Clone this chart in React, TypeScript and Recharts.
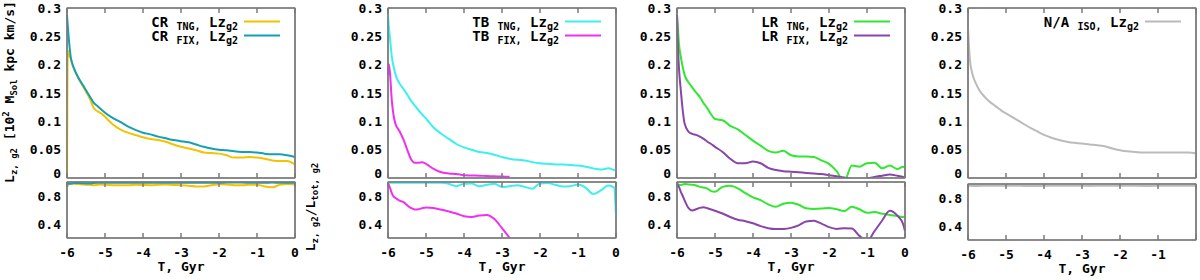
import React from "react";
import { LineChart, Line, XAxis, YAxis, ReferenceArea } from "recharts";

// time grid, Gyr
const TIME = [
  -6, -5.98, -5.95, -5.9, -5.85, -5.8, -5.7, -5.6, -5.5, -5.4,
  -5.3, -5.2, -5.1, -5.0, -4.8, -4.6, -4.4, -4.2, -4.0, -3.8,
  -3.6, -3.4, -3.2, -3.0, -2.8, -2.6, -2.4, -2.2, -2.0, -1.8,
  -1.6, -1.4, -1.2, -1.0, -0.8, -0.6, -0.4, -0.2, -0.05, 0,
];

// CR
const crTngTop = [
  0, 0.225, 0.218, 0.21, 0.198, 0.19, 0.176, 0.164, 0.152, 0.14,
  0.124, 0.118, 0.114, 0.108, 0.095, 0.086, 0.08, 0.076, 0.072, 0.069,
  0.067, 0.064, 0.059, 0.055, 0.052, 0.049, 0.045, 0.044, 0.043, 0.04,
  0.036, 0.036, 0.037, 0.036, 0.034, 0.031, 0.03, 0.03, 0.026, 0.024,
];
const crFixTop = [
  0.288, 0.269, 0.244, 0.213, 0.2, 0.191, 0.177, 0.166, 0.155, 0.144,
  0.133, 0.127, 0.121, 0.115, 0.106, 0.099, 0.091, 0.085, 0.08, 0.077,
  0.073, 0.07, 0.067, 0.065, 0.063, 0.059, 0.055, 0.052, 0.05, 0.049,
  0.047, 0.046, 0.046, 0.045, 0.043, 0.042, 0.042, 0.04, 0.038, 0.037,
];
const crTngBot = [
  0.92, 0.95, 0.97, 0.98, 0.98, 0.975, 0.97, 0.965, 0.96, 0.96,
  0.955, 0.96, 0.965, 0.96, 0.955, 0.955, 0.955, 0.96, 0.958, 0.955,
  0.962, 0.965, 0.958, 0.955, 0.948, 0.935, 0.935, 0.955, 0.968, 0.965,
  0.955, 0.955, 0.96, 0.962, 0.935, 0.925, 0.96, 0.97, 0.968, 0.965,
];
const crFixBot = [
  0.99, 0.985, 0.975, 0.975, 0.98, 0.985, 0.985, 0.983, 0.98, 0.98,
  0.985, 0.988, 0.99, 0.99, 0.99, 0.99, 0.99, 0.99, 0.99, 0.99,
  0.99, 0.99, 0.99, 0.988, 0.988, 0.99, 0.99, 0.99, 0.99, 0.992,
  0.992, 0.992, 0.99, 0.99, 0.99, 0.992, 0.99, 0.99, 0.99, 0.99,
];

// TB
const tbTngTop = [
  0.288, 0.269, 0.249, 0.214, 0.196, 0.182, 0.167, 0.158, 0.148, 0.137,
  0.128, 0.12, 0.112, 0.105, 0.089, 0.078, 0.069, 0.06, 0.054, 0.05,
  0.046, 0.044, 0.041, 0.037, 0.034, 0.032, 0.031, 0.028, 0.026, 0.025,
  0.024, 0.024, 0.023, 0.022, 0.02, 0.017, 0.015, 0.017, 0.014, 0.013,
];
const tbFixTop = [
  0.182, 0.201, 0.187, 0.137, 0.109, 0.095, 0.083, 0.069, 0.051, 0.034,
  0.027, 0.027, 0.028, 0.025, 0.016, 0.01, 0.008, 0.007, 0.005, 0.0045,
  0.004, 0.0035, 0.003, 0.0025, 0.002, null, null, null, null, null,
  null, null, null, null, null, null, null, null, null, null,
];
const tbTngBot = [
  0.99, 0.99, 0.99, 0.99, 0.99, 0.99, 0.99, 0.99, 0.99, 0.99,
  0.99, 0.99, 0.99, 0.99, 0.99, 0.99, 0.975, 0.94, 0.975, 0.98,
  0.94, 0.96, 0.975, 0.93, 0.94, 0.955, 0.93, 0.905, 0.98, 0.985,
  0.96, 0.935, 0.94, 0.965, 0.92, 0.83, 0.88, 0.95, 0.92, 0.51,
];
const tbFixBot = [
  0.98, 0.96, 0.92, 0.84, 0.79, 0.77, 0.735, 0.715, 0.67, 0.63,
  0.607, 0.61, 0.627, 0.636, 0.628, 0.605, 0.58, 0.55, 0.51, 0.5,
  0.52, 0.53, 0.47, 0.34, 0.2, null, null, null, null, null,
  null, null, null, null, null, null, null, null, null, null,
];

// LR
const lrTngTop = [
  0.288, 0.269, 0.238, 0.214, 0.196, 0.182, 0.169, 0.16, 0.151, 0.143,
  0.132, 0.123, 0.112, 0.104, 0.102, 0.092, 0.086, 0.076, 0.066, 0.057,
  0.048, 0.045, 0.048, 0.04, 0.038, 0.038, 0.037, 0.031, 0.025, 0.012,
  -0.006, 0.022, 0.02, 0.026, 0.027, 0.017, 0.022, 0.016, 0.02, 0.018,
];
const lrFixTop = [
  0.288, 0.24, 0.196, 0.155, 0.12, 0.096, 0.082, 0.078, 0.076, 0.073,
  0.069, 0.064, 0.06, 0.055, 0.046, 0.034, 0.026, 0.026, 0.029, 0.026,
  0.018, 0.014, 0.012, 0.011, 0.01, 0.009, 0.008, 0.007, 0.005, 0.003,
  0.001, -0.002, -0.005, -0.001, 0.002, 0.004, 0.006, 0.004, 0.002, 0.001,
];
const lrTngBot = [
  0.98, 0.97, 0.96, 0.955, 0.965, 0.97, 0.965, 0.96, 0.95, 0.93,
  0.92, 0.906, 0.87, 0.86, 0.93, 0.945, 0.91, 0.84, 0.78, 0.74,
  0.68, 0.645, 0.69, 0.705, 0.675, 0.625, 0.615, 0.62, 0.63, 0.61,
  0.585, 0.645, 0.61, 0.56, 0.57, 0.545, 0.53, 0.515, 0.5, 0.5,
];
const lrFixBot = [
  0.98, 0.96, 0.93, 0.86, 0.8, 0.737, 0.63, 0.593, 0.61, 0.63,
  0.64, 0.625, 0.607, 0.59, 0.55, 0.5, 0.46, 0.44, 0.41, 0.37,
  0.34, 0.328, 0.33, 0.345, 0.38, 0.435, 0.445, 0.405, 0.355, 0.33,
  0.34, 0.335, 0.23, 0.16, 0.3, 0.45, 0.59, 0.52, 0.4, 0.3,
];

// N/A
const isoTop = [
  0.265, 0.24, 0.209, 0.188, 0.176, 0.168, 0.155, 0.146, 0.139, 0.133,
  0.128, 0.123, 0.118, 0.114, 0.106, 0.098, 0.09, 0.083, 0.076, 0.071,
  0.067, 0.064, 0.062, 0.061, 0.059, 0.058, 0.056, 0.052, 0.049, 0.047,
  0.046, 0.045, 0.045, 0.045, 0.045, 0.045, 0.045, 0.045, 0.044, 0.042,
];
const isoBot = [
  0.975, 0.975, 0.975, 0.972, 0.972, 0.972, 0.973, 0.974, 0.975, 0.975,
  0.975, 0.976, 0.976, 0.976, 0.975, 0.974, 0.972, 0.972, 0.974, 0.975,
  0.976, 0.976, 0.975, 0.974, 0.973, 0.974, 0.975, 0.976, 0.976, 0.975,
  0.974, 0.973, 0.973, 0.974, 0.975, 0.975, 0.975, 0.975, 0.975, 0.975,
];

const TOP_TICKS = [0, 0.05, 0.1, 0.15, 0.2, 0.25, 0.3];
const BOT_TICKS = [0.4, 0.8];
const X_TICKS = [-6, -5, -4, -3, -2, -1, 0];
const X_TICKS_ISO = [-6, -5, -4, -3, -2, -1];

const FONT = '"DejaVu Sans Mono", monospace';
const FRAME = "#7a7a7a";
const PLOT_W = 228;
const AXIS_W = 60;

type Series = { main: string; sub: string; color: string; top: (number | null)[]; bottom: (number | null)[] };
type PanelDef = { left: number; shift: number; xTicks: number[]; series: Series[] };

const PANELS: PanelDef[] = [
  {
    left: 67, shift: 0, xTicks: X_TICKS,
    series: [
      { main: "CR", sub: "TNG,", color: "#f3c300", top: crTngTop, bottom: crTngBot },
      { main: "CR", sub: "FIX,", color: "#14a0b4", top: crFixTop, bottom: crFixBot },
    ],
  },
  {
    left: 388, shift: 0, xTicks: X_TICKS,
    series: [
      { main: "TB", sub: "TNG,", color: "#3cf0f0", top: tbTngTop, bottom: tbTngBot },
      { main: "TB", sub: "FIX,", color: "#f030f0", top: tbFixTop, bottom: tbFixBot },
    ],
  },
  {
    left: 677, shift: 0, xTicks: X_TICKS,
    series: [
      { main: "LR", sub: "TNG,", color: "#30e830", top: lrTngTop, bottom: lrTngBot },
      { main: "LR", sub: "FIX,", color: "#8a45a8", top: lrFixTop, bottom: lrFixBot },
    ],
  },
  {
    left: 968, shift: 2, xTicks: X_TICKS_ISO,
    series: [{ main: "N/A", sub: "ISO,", color: "#bbbbbb", top: isoTop, bottom: isoBot }],
  },
];

function rows(series: Series[], which: "top" | "bottom") {
  return TIME.map((t, i) => {
    const r: Record<string, number | null> = { t };
    series.forEach((s, k) => (r["s" + k] = s[which][i]));
    return r;
  });
}

const txt = { fontFamily: FONT, fontWeight: "bold" as const, fill: "#000" };

const YTickTop = (props: any) => {
  const { x, y, payload } = props;
  const lift = payload.value === 0 ? -4.5 : 0;
  return (
    <text x={x} y={y + lift} dy="0.36em" textAnchor="end" fontSize={13} {...txt}>
      {payload.value}
    </text>
  );
};

const YTickBot = (props: any) => {
  const { x, y, payload } = props;
  return (
    <text x={x} y={y} dy="0.36em" textAnchor="end" fontSize={13} {...txt}>
      {payload.value}
    </text>
  );
};

const XTick = (props: any) => {
  const { x, y, payload } = props;
  return (
    <text x={x} y={y} dy="0.71em" textAnchor="middle" fontSize={13} {...txt}>
      {payload.value}
    </text>
  );
};

// frame axes keep their tick marks but draw no label
const Blank = () => <g />;

const frameLine = { stroke: FRAME, strokeWidth: 1.5 };

function Half({ p, which }: { p: PanelDef; which: "top" | "bottom" }) {
  const isTop = which === "top";
  const domain = isTop ? [0, 0.3] : [0.2, 1.0];
  const yTicks = isTop ? TOP_TICKS : BOT_TICKS;
  const top = isTop ? 0 : 174 + p.shift;
  const height = isTop ? 179 : 104;
  return (
    <div style={{ position: "absolute", left: p.left - AXIS_W, top }}>
      <LineChart
        width={AXIS_W + PLOT_W + 2}
        height={height}
        data={rows(p.series, which)}
        margin={{ top: 8, right: 2, bottom: isTop ? 1 : 0, left: 0 }}
      >
        {/* labels */}
        <XAxis
          xAxisId="lab" dataKey="t" type="number" domain={[-6, 0]} ticks={p.xTicks} interval={0}
          height={isTop ? 0 : 40} hide={isTop} tick={XTick} tickLine={false} axisLine={false}
          tickSize={0} tickMargin={10}
        />
        <YAxis
          yAxisId="lab" type="number" domain={domain} ticks={yTicks} interval={0} width={AXIS_W}
          tick={isTop ? YTickTop : YTickBot} tickLine={false} axisLine={false} tickSize={0} tickMargin={6}
          allowDataOverflow
        />
        {/* frame with inward ticks */}
        <XAxis
          xAxisId="fb" orientation="bottom" mirror dataKey="t" type="number" domain={[-6, 0]} ticks={X_TICKS}
          height={10} tick={Blank} tickSize={5} stroke={FRAME} axisLine={frameLine} tickLine={frameLine}
        />
        <XAxis
          xAxisId="ft" orientation="top" mirror dataKey="t" type="number" domain={[-6, 0]} ticks={X_TICKS}
          height={10} tick={Blank} tickSize={5} stroke={FRAME} axisLine={frameLine} tickLine={frameLine}
        />
        <YAxis
          yAxisId="fl" orientation="left" mirror type="number" domain={domain} ticks={yTicks}
          width={10} tick={Blank} tickSize={5} stroke={FRAME} axisLine={frameLine} tickLine={frameLine}
        />
        <YAxis
          yAxisId="fr" orientation="right" mirror type="number" domain={domain} ticks={yTicks}
          width={10} tick={Blank} tickSize={5} stroke={FRAME} axisLine={frameLine} tickLine={frameLine}
        />
        <ReferenceArea
          xAxisId="lab" yAxisId="lab" x1={-6} x2={0} y1={domain[0]} y2={domain[1]}
          fill="none" fillOpacity={0} stroke={FRAME} strokeWidth={1.2} ifOverflow="visible"
        />
        {p.series.map((s, k) => (
          <Line
            key={k} xAxisId="lab" yAxisId="lab" dataKey={"s" + k} type="monotone" stroke={s.color}
            strokeWidth={2} dot={false} activeDot={false} isAnimationActive={false}
          />
        ))}
      </LineChart>
    </div>
  );
}

function Overlay() {
  return (
    <svg width={1200} height={280} style={{ position: "absolute", left: 0, top: 0, pointerEvents: "none" }}>
      {PANELS.map((p, i) => {
        const right = p.left + PLOT_W;
        const x2 = right - 15;
        const x1 = x2 - 36;
        return (
          <g key={i}>
            {p.series.map((s, k) => {
              const y = 21.5 + k * 14;
              return (
                <g key={k}>
                  <text x={x1 - 6} y={y + 5} textAnchor="end" fontSize={14} {...txt} style={{ whiteSpace: "pre" }}>
                    <tspan>{s.main + " "}</tspan>
                    <tspan fontSize={10} dy={3}>{s.sub}</tspan>
                    <tspan fontSize={14} dy={-3}>{" Lz"}</tspan>
                    <tspan fontSize={10} dy={3}>g2</tspan>
                  </text>
                  <line x1={x1} x2={x2} y1={y} y2={y} stroke={s.color} strokeWidth={2} />
                </g>
              );
            })}
            <text x={p.left + PLOT_W / 2} y={271 + p.shift} textAnchor="middle" fontSize={13} {...txt} style={{ whiteSpace: "pre" }}>
              T, Gyr
            </text>
          </g>
        );
      })}
      <text transform="translate(14,92) rotate(-90)" textAnchor="middle" fontSize={13} {...txt} style={{ whiteSpace: "pre" }}>
        <tspan>L</tspan>
        <tspan fontSize={9} dy={3}>z, g2</tspan>
        <tspan dy={-3}>{" [10"}</tspan>
        <tspan fontSize={9} dy={-5}>2</tspan>
        <tspan dy={5}>{" M"}</tspan>
        <tspan fontSize={9} dy={3}>Sol</tspan>
        <tspan dy={-3}>{" kpc km/s]"}</tspan>
      </text>
      <text transform="translate(315,207) rotate(-90)" textAnchor="middle" fontSize={13} {...txt} style={{ whiteSpace: "pre" }}>
        <tspan>L</tspan>
        <tspan fontSize={9} dy={3}>z, g2</tspan>
        <tspan dy={-3}>/L</tspan>
        <tspan fontSize={9} dy={3}>tot, g2</tspan>
      </text>
    </svg>
  );
}

export default function App() {
  return (
    <div style={{ position: "absolute", left: 0, top: 0, width: 1200, height: 280, background: "#fff" }}>
      <style>{".recharts-surface { overflow: visible; }"}</style>
      {PANELS.map((p, i) => (
        <React.Fragment key={i}>
          <Half p={p} which="top" />
          <Half p={p} which="bottom" />
        </React.Fragment>
      ))}
      <Overlay />
    </div>
  );
}
